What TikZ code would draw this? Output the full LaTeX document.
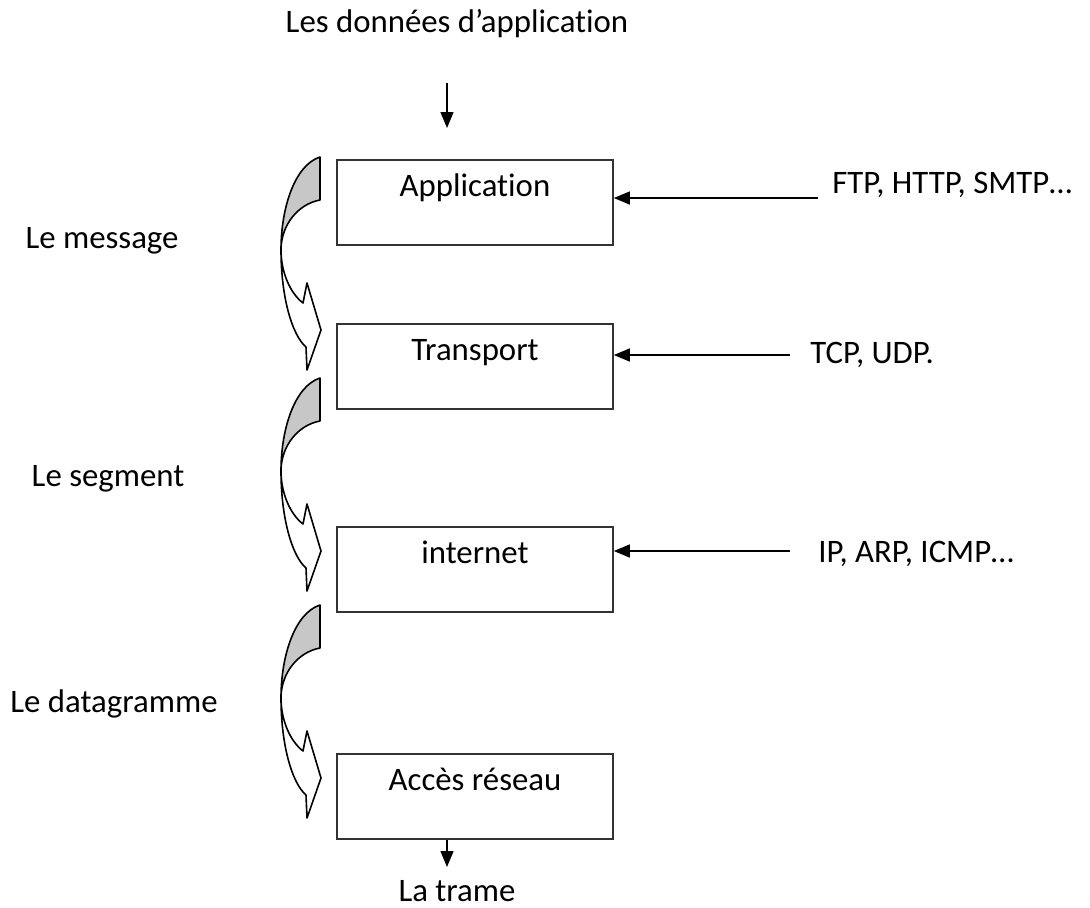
\documentclass[tikz,border=0pt]{standalone}
\usepackage{fontspec}
\setmainfont{Carlito}[Ligatures=NoCommon]
\usetikzlibrary{arrows.meta}

\tikzset{
  layer/.style={draw=black!80, line width=0.8pt, inner sep=0pt, minimum width=138pt,
    text height=18.5pt, text depth=24pt, anchor=north},
  tag/.style={inner sep=0pt},
  flow/.style={-{Triangle[length=8pt,width=6.5pt]}, line width=0.7pt},
  bandback/.style={draw=black, fill=black!22, line width=0.8pt, line join=round},
  bandfront/.style={draw=black, fill=white, line width=0.8pt, line join=round},
  bendarrow/.pic={
    \filldraw[bandback] (0,0) .. controls (-25,8) and (-39,50) .. (-39,93)
      .. controls (-39,68) and (-22,47) .. (0,43) -- cycle;
    \filldraw[bandfront] (-39,93) .. controls (-39,140) and (-28,178) .. (-14,190)
      -- (-13,213) -- (1,173) -- (-13,126) -- (-17,146)
      .. controls (-30,136) and (-39,115) .. (-39,93) -- cycle;
  }
}

\begin{document}
\begin{tikzpicture}[x=0.5pt, y=-0.5pt, font=\fontsize{16.4pt}{19pt}\selectfont]
    \useasboundingbox (0,0) rectangle (1090,907);

    % the four layers
    \node (app) [layer] at (475,159) {Application};
    \node (trans) [layer] at (475,323) {Transport};
    \node (inet) [layer] at (475,526) {internet};
    \node (acces) [layer] at (475,753) {Accès réseau};

    % data in and out
    \node (data) [tag, anchor=base] at (457,32) {Les données d’application};
    \node (trame) [tag, anchor=base] at (457,901) {La trame};
    \coordinate (datain) at (447,83);
    \coordinate (dataout) at (447,128);
    \coordinate (trameout) at (447,867);
    \draw [flow] (datain) to (dataout);
    \draw [flow] (acces.south -| trameout) to (trameout);

    % protocols
    \node (ftp) [tag, anchor=base west] at (832,193) {FTP, HTTP, SMTP…};
    \node (tcp) [tag, anchor=base west] at (810,363) {TCP, UDP.};
    \node (ip) [tag, anchor=base west] at (818,562) {IP, ARP, ICMP…};
    \coordinate (ftpin) at (818,198);
    \coordinate (tcpin) at (790,355);
    \coordinate (ipin) at (790,551);
    \draw [flow] (ftpin) to (ftpin -| app.east);
    \draw [flow] (tcpin) to (tcpin -| trans.east);
    \draw [flow] (ipin) to (ipin -| inet.east);

    % encapsulation
    \node (msg) [tag, anchor=base] at (102,248) {Le message};
    \node (seg) [tag, anchor=base] at (108,486) {Le segment};
    \node (dgram) [tag, anchor=base] at (114,712) {Le datagramme};
    \pic at (320,157) {bendarrow};
    \pic at (320,378) {bendarrow};
    \pic at (320,605) {bendarrow};

\end{tikzpicture}
\end{document}
